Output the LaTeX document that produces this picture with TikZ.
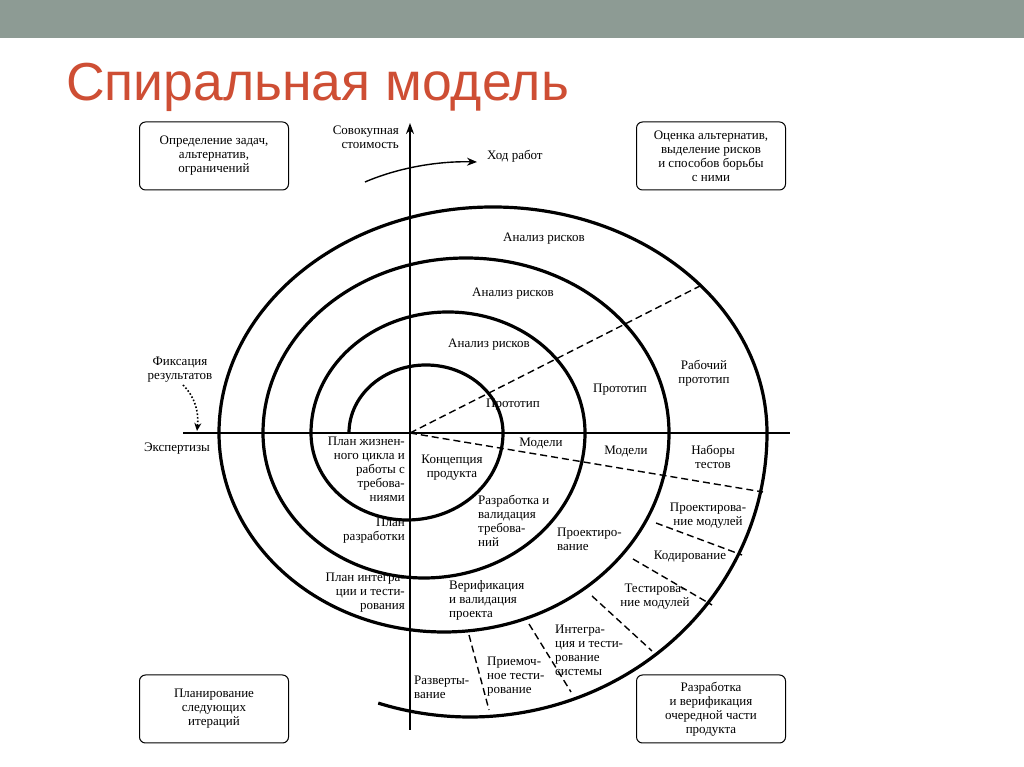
\documentclass[tikz,border=0pt]{standalone}
\usepackage{fontspec}
\setmainfont{Liberation Serif}
\newfontfamily\titlefont{Liberation Sans}
\usetikzlibrary{arrows.meta}
\begin{document}
\begin{tikzpicture}[x=1pt,y=1pt,
  lbl/.style={font=\fontsize{13}{14}\selectfont,align=center,inner sep=0pt},
  lblr/.style={lbl,align=right,anchor=east},
  lbll/.style={lbl,align=left,anchor=west},
  cbox/.style={draw,rounded corners=6pt,line width=1pt,minimum width=149pt,minimum height=68pt,align=center,font=\fontsize{13}{14}\selectfont},
  spiral/.style={line width=3.2pt},
  dsh/.style={line width=1.4pt,dash pattern=on 7pt off 4pt}]
\useasboundingbox (0,0) rectangle (1024,767);
\fill[white] (0,0) rectangle (1024,767);
\fill[fill={rgb,255:red,141;green,155;blue,148}] (0,729) rectangle (1024,767);
\node[anchor=west,inner sep=0pt,text={rgb,255:red,206;green,78;blue,52},font=\titlefont\fontsize{53.5}{55}\selectfont] (title) at (66,680) {Спиральная модель};
% axes
\coordinate (C) at (410,334);
\coordinate (axL) at (183,334);
\coordinate (axR) at (790,334);
\coordinate (axB) at (410,37);
\coordinate (axT) at (410,644);
\draw[line width=1.6pt] (axL) -- (axR);
\draw[line width=1.6pt,-{Stealth[length=11pt,width=8pt]}] (axB) -- (axT);
% spiral
\draw[spiral] (349,334) arc[start angle=180,end angle=0,x radius=77,y radius=68]
  arc[start angle=0,end angle=-180,x radius=96,y radius=87]
  arc[start angle=180,end angle=0,x radius=137,y radius=121]
  arc[start angle=0,end angle=-180,x radius=161,y radius=145]
  arc[start angle=180,end angle=0,x radius=203,y radius=175]
  arc[start angle=0,end angle=-180,x radius=225,y radius=199]
  arc[start angle=180,end angle=0,x radius=274,y radius=226]
  arc[start angle=0,end angle=-108,x radius=297,y radius=284];
% dashed radials
\coordinate (d1) at (700,481);
\coordinate (d2) at (763,275);
\draw[dsh] (C) -- (d1);
\draw[dsh] (C) -- (d2);
\draw[dsh] (656,244) -- (742,212);
\draw[dsh] (633,208) -- (712,162);
\draw[dsh] (592,171) -- (652,116);
\draw[dsh] (529,143) -- (571,75);
\draw[dsh] (469,132) -- (489,57);
% arrows
\coordinate (h1) at (365,585);
\coordinate (h2) at (477,605);
\draw[line width=1.4pt,-{Stealth[length=10pt,width=8pt]}] (h1) .. controls (400,600) and (440,606) .. (h2);
\coordinate (f1) at (183,382);
\coordinate (f2) at (197,336);
\draw[line width=1.6pt,dotted,-{Stealth[length=8pt,width=7pt]}] (f1) .. controls (195,370) and (199,355) .. (f2);
% boxes
\node[cbox] (b1) at (214,611) {Определение задач,\\альтернатив,\\ограничений};
\node[cbox] (b2) at (711,611) {Оценка альтернатив,\\выделение рисков\\и способов борьбы\\с ними};
\node[cbox] (b3) at (214,58) {Планирование\\следующих\\итераций};
\node[cbox] (b4) at (711,58) {Разработка\\и верификация\\очередной части\\продукта};
% labels
\node[lblr] (t1) at (399,630) {Совокупная\\стоимость};
\node[lbll] (t2) at (487,611) {Ход работ};
\node[lbl] (t3) at (180,397) {Фиксация\\результатов};
\node[lbl] (t4) at (177,318) {Экспертизы};
\node[lbl] (a1) at (544,528) {Анализ рисков};
\node[lbl] (a2) at (513,473) {Анализ рисков};
\node[lbl] (a3) at (489,422) {Анализ рисков};
\node[lbl] (p1) at (513,362) {Прототип};
\node[lbl] (p2) at (620,377) {Прототип};
\node[lbl] (p3) at (704,394) {Рабочий\\прототип};
\node[lbl] (m1) at (541,323) {Модели};
\node[lbl] (m2) at (626,315) {Модели};
\node[lbl] (m3) at (713,310) {Наборы\\тестов};
\node[lbl] (k1) at (452,299) {Концепция\\продукта};
\node[lblr] (l1) at (405,298) {План жизнен-\\ного цикла и\\работы с\\требова-\\ниями};
\node[lblr] (l2) at (405,236) {План\\разработки};
\node[lblr] (l3) at (405,174) {План интегра-\\ции и тести-\\рования};
\node[lbll] (r1) at (478,246) {Разработка и\\валидация\\требова-\\ний};
\node[lbll] (r2) at (557,228) {Проектиро-\\вание};
\node[lbll] (r3) at (449,167) {Верификация\\и валидация\\проекта};
\node[lbl] (r4) at (708,251) {Проектирова-\\ние модулей};
\node[lbl] (r5) at (690,210) {Кодирование};
\node[lbl] (r6) at (655,170) {Тестирова-\\ние модулей};
\node[lbll] (r7) at (555,117) {Интегра-\\ция и тести-\\рование\\системы};
\node[lbll] (r8) at (487,90) {Приемоч-\\ное тести-\\рование};
\node[lbll] (r9) at (414,80) {Разверты-\\вание};
\end{tikzpicture}
\end{document}
